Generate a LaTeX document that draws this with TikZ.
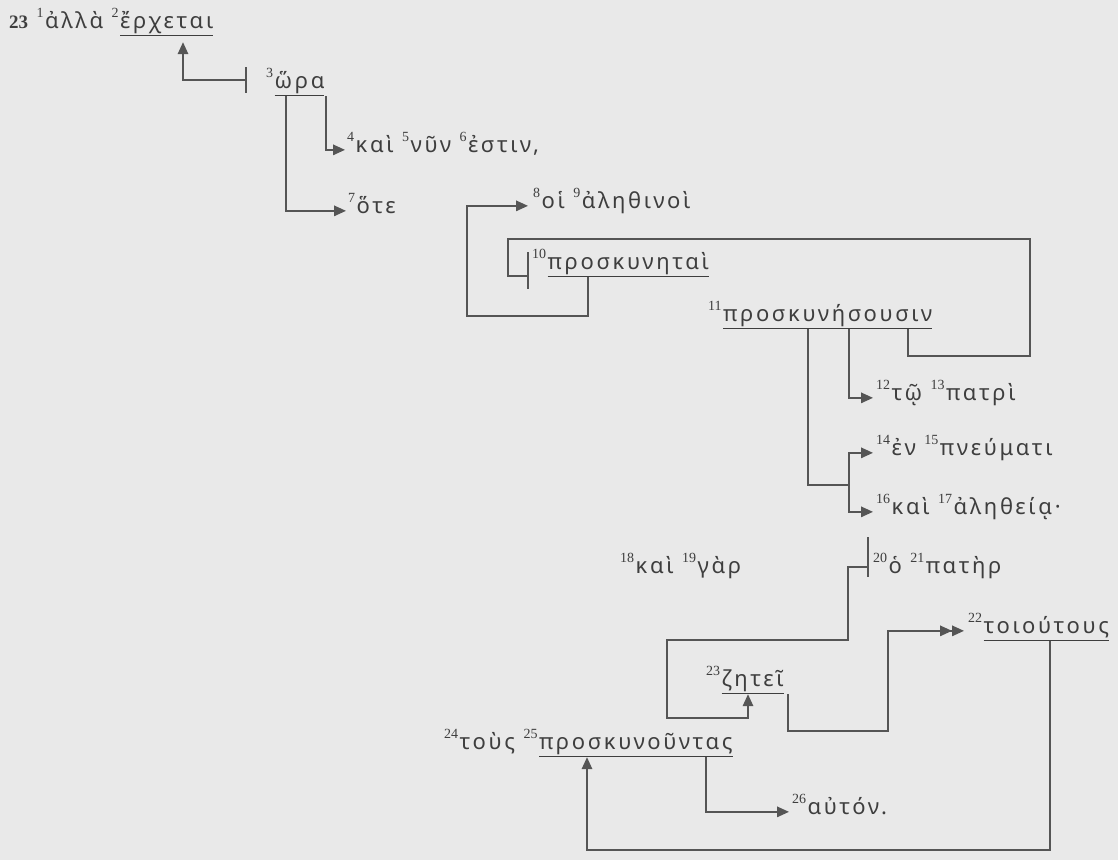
\documentclass[tikz,border=0pt]{standalone}
\usepackage{fontspec}
\usetikzlibrary{arrows.meta, calc}
\newfontfamily\grk{Noto Sans}[LetterSpace=12]
\newfontfamily\numf{Liberation Serif}
\definecolor{bgC}{RGB}{233,233,233}
\definecolor{txtC}{RGB}{62,62,62}
\definecolor{lnC}{RGB}{85,85,85}
% verse numbers and underlined words
\newcommand{\vn}[1]{\raisebox{10.5pt}{\numf\fontsize{14}{14}\selectfont #1}\kern1.5pt}
\newsavebox{\ulbox}
\newcommand{\uln}[1]{\sbox{\ulbox}{#1}\rlap{\rule[-8pt]{\wd\ulbox}{1.3pt}}\usebox{\ulbox}}
\tikzset{
	wd/.style    ={inner sep=0pt, anchor=base west, text=txtC, font=\grk\fontsize{22}{26}\selectfont},
	ln/.style    ={draw=lnC, line width=1.6pt},
	arr/.style   ={ln, -{Triangle[length=12pt, width=10.5pt]}},
	dblarr/.style={ln, -{Triangle[length=12pt, width=10.5pt]Triangle[length=12pt, width=10.5pt]}},
}
\begin{document}
\begin{tikzpicture}[x=1pt, y=-1pt]
	% page
	\fill[bgC] (0,0) rectangle (1118,860);
	\useasboundingbox (0,0) rectangle (1118,860);
	% words
	\node[wd] (w2) at (9,28) {{\numf\fontsize{19}{19}\selectfont\bfseries 23}\ \vn{1}ἀλλὰ \vn{2}\uln{ἔρχεται}};
	\node[wd] (w3) at (266,88) {\vn{3}\uln{ὥρα}};
	\node[wd] (w4) at (347,152) {\vn{4}καὶ \vn{5}νῦν \vn{6}ἐστιν,};
	\node[wd] (w7) at (348,213) {\vn{7}ὅτε};
	\node[wd] (w8) at (533,208) {\vn{8}οἱ \vn{9}ἀληθινοὶ};
	\node[wd] (w10) at (532,269) {\vn{10}\uln{προσκυνηταὶ}};
	\node[wd] (w11) at (708,321) {\vn{11}\uln{προσκυνήσουσιν}};
	\node[wd] (w12) at (876,400) {\vn{12}τῷ \vn{13}πατρὶ};
	\node[wd] (w14) at (876,455) {\vn{14}ἐν \vn{15}πνεύματι};
	\node[wd] (w16) at (876,514) {\vn{16}καὶ \vn{17}ἀληθείᾳ·};
	\node[wd] (w18) at (620,573) {\vn{18}καὶ \vn{19}γὰρ};
	\node[wd] (w20) at (873,573) {\vn{20}ὁ \vn{21}πατὴρ};
	\node[wd] (w22) at (968,633) {\vn{22}\uln{τοιούτους}};
	\node[wd] (w23) at (706,686) {\vn{23}\uln{ζητεῖ}};
	\node[wd] (w25) at (444,749) {\vn{24}τοὺς \vn{25}\uln{προσκυνοῦντας}};
	\node[wd] (w26) at (792,814) {\vn{26}αὐτόν.};
	% hour -> comes
	\coordinate (b3) at (246,80);
	\draw[ln] ($(b3)+(0,-13)$) -- ($(b3)+(0,13)$);
	\draw[arr, shorten >=6pt] (b3) -| (183,0 |- w2.south);
	\draw[arr, shorten >=2pt] (326,0 |- w3.south) |- (w4.mid west);
	\draw[arr, shorten >=2pt] (286,0 |- w3.south) |- (w7.mid west);
	% worshippers
	\draw[arr, shorten >=5pt] (588,0 |- w10.south) |- (467,316) |- (w8.mid west);
	\coordinate (b10) at (528,276);
	\draw[ln] ($(b10)+(0,-24)$) -- ($(b10)+(0,13)$);
	\draw[ln] (b10) -| (508,239) -| (1030,356) -| (908,0 |- w11.south);
	% will worship
	\draw[arr, shorten >=3pt] (849,0 |- w11.south) |- (w12.mid west);
	\coordinate (j11) at (849,485);
	\draw[ln] (808,0 |- w11.south) |- (j11);
	\draw[arr, shorten >=3pt] (j11) |- (w14.mid west);
	\draw[arr, shorten >=3pt] (j11) |- (w16.mid west);
	% the father seeks
	\coordinate (b20) at (868,567);
	\draw[ln] ($(b20)+(0,-30)$) -- ($(b20)+(0,10)$);
	\draw[arr] (b20) -| (848,640) -| (667,718) -| (748,0 |- w23.south);
	\draw[dblarr, shorten >=4pt] (788,0 |- w23.south) |- (888,731) |- (w22.mid west);
	\draw[arr] (1050,0 |- w22.south) |- (587,850) -- (587,0 |- w25.south);
	\draw[arr, shorten >=3pt] (706,0 |- w25.south) |- (w26.mid west);
\end{tikzpicture}
\end{document}
